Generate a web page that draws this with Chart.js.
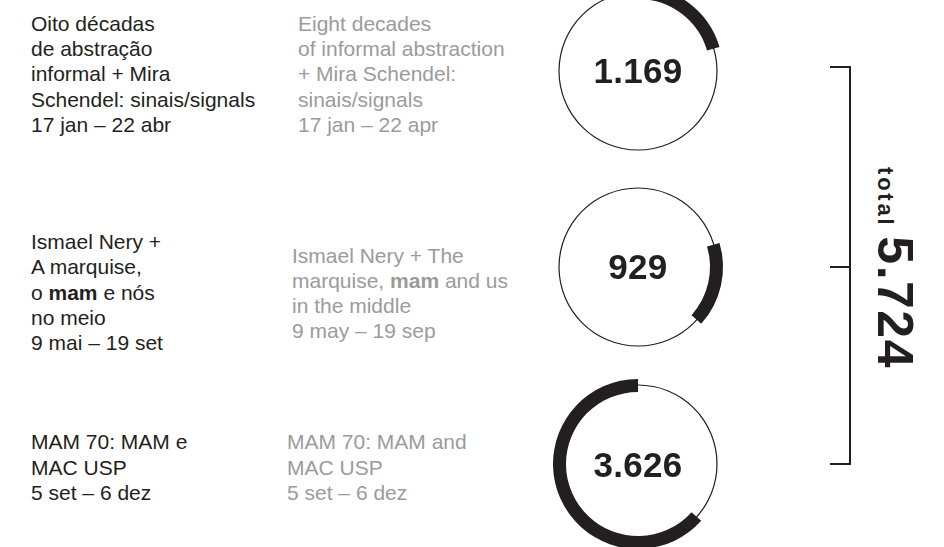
<!DOCTYPE html>
<html>
<head>
<meta charset="utf-8">
<script src="https://cdn.jsdelivr.net/npm/chart.js@4.4.1/dist/chart.umd.min.js"></script>
<style>
  html, body { margin: 0; padding: 0; background: #fff; }
  body { width: 944px; height: 547px; position: relative; overflow: hidden;
         font-family: "Liberation Sans", Arial, Helvetica, sans-serif; color: #231f20; }
  .txt { position: absolute; font-size: 21px; line-height: 25.3px; white-space: nowrap; }
  .en { color: #9b9b9b; }
  .ring { position: absolute; width: 180px; height: 180px; }
  .ring .layer { position: absolute; left: 0; top: 0; width: 180px; height: 180px; }
  .num { position: absolute; left: 0; top: 0; width: 180px; height: 180px; display: flex;
         align-items: center; justify-content: center; font-weight: bold; font-size: 35px;
         line-height: 35px; letter-spacing: 0.3px; }
  .bracket { position: absolute; left: 830px; top: 66px; width: 19px; height: 395px;
             border: 2px solid #231f20; border-left: none; }
  .tick { position: absolute; left: 830px; top: 266px; width: 20px; height: 2px; background: #231f20; }
  .total { position: absolute; left: 920px; top: 167px; transform: rotate(90deg); transform-origin: 0 0;
           font-weight: bold; font-size: 50px; line-height: 50px; white-space: nowrap; letter-spacing: 1.5px; }
  .total small { font-size: 22px; letter-spacing: 2.8px; }
</style>
</head>
<body>
<div id="root"></div>
<div class="bracket"></div>
<div class="tick"></div>
<div class="total" id="total"></div>

<script>
// dados
const exposicoesPt = [
  ['Oito décadas', 'de abstração', 'informal + Mira', 'Schendel: sinais/signals', '17 jan – 22 abr'],
  ['Ismael Nery +', 'A marquise,', 'o <b>mam</b> e nós', 'no meio', '9 mai – 19 set'],
  ['MAM 70: MAM e', 'MAC USP', '5 set – 6 dez']
];
const exposicoesEn = [
  ['Eight decades', 'of informal abstraction', '+ Mira Schendel:', 'sinais/signals', '17 jan – 22 apr'],
  ['Ismael Nery + The', 'marquise, <b>mam</b> and us', 'in the middle', '9 may – 19 sep'],
  ['MAM 70: MAM and', 'MAC USP', '5 set – 6 dez']
];
const visitantes = [1169, 929, 3626];

// layout
const centrosY = [70.5, 266.5, 464];
const centroX = 638;
const ptTop = [10.9, 229, 429.3];
const enTop = [10.9, 242.6, 429.3];
const enLeft = [298, 292, 287];

const escuro = '#231f20';
const total = visitantes.reduce((a, b) => a + b, 0);

function fmt(n) {
  return String(n).replace(/\B(?=(\d{3})+(?!\d))/g, '.');
}

// raio externo e interno em px (cutout do Chart.js é relativo ao raio)
function baseOptions(outer, inner) {
  return {
    responsive: true,
    maintainAspectRatio: false,
    animation: false,
    events: [],
    radius: outer,
    cutout: (inner / outer * 100) + '%',
    rotation: 0,
    layout: { padding: 0 },
    plugins: { legend: { display: false }, tooltip: { enabled: false } }
  };
}

function addLayer(box) {
  const d = document.createElement('div');
  d.className = 'layer';
  const cv = document.createElement('canvas');
  d.appendChild(cv);
  box.appendChild(d);
  return cv;
}

const root = document.getElementById('root');
let acumulado = 0;

visitantes.forEach((v, i) => {
  const pt = document.createElement('div');
  pt.className = 'txt';
  pt.style.left = '31px';
  pt.style.top = ptTop[i] + 'px';
  pt.innerHTML = exposicoesPt[i].join('<br>');
  root.appendChild(pt);

  const en = document.createElement('div');
  en.className = 'txt en';
  en.style.left = enLeft[i] + 'px';
  en.style.top = enTop[i] + 'px';
  en.innerHTML = exposicoesEn[i].join('<br>');
  root.appendChild(en);

  const box = document.createElement('div');
  box.className = 'ring';
  box.style.left = (centroX - 90) + 'px';
  box.style.top = (centrosY[i] - 90) + 'px';
  root.appendChild(box);

  // círculo fino (total)
  new Chart(addLayer(box), {
    type: 'doughnut',
    data: { labels: ['total'], datasets: [{ data: [total], backgroundColor: [escuro], borderWidth: 0 }] },
    options: baseOptions(79.6, 78.4)
  });

  // arco: antes, valor, depois
  const partes = [acumulado, v, total - acumulado - v];
  acumulado += v;
  new Chart(addLayer(box), {
    type: 'doughnut',
    data: {
      labels: ['antes', 'visitantes', 'depois'],
      datasets: [{ data: partes, backgroundColor: ['rgba(0,0,0,0)', escuro, 'rgba(0,0,0,0)'], borderWidth: 0 }]
    },
    options: baseOptions(85, 72)
  });

  const num = document.createElement('div');
  num.className = 'num';
  num.textContent = fmt(v);
  box.appendChild(num);
});

document.getElementById('total').innerHTML = '<small>total </small>' + fmt(total);
</script>
</body>
</html>
